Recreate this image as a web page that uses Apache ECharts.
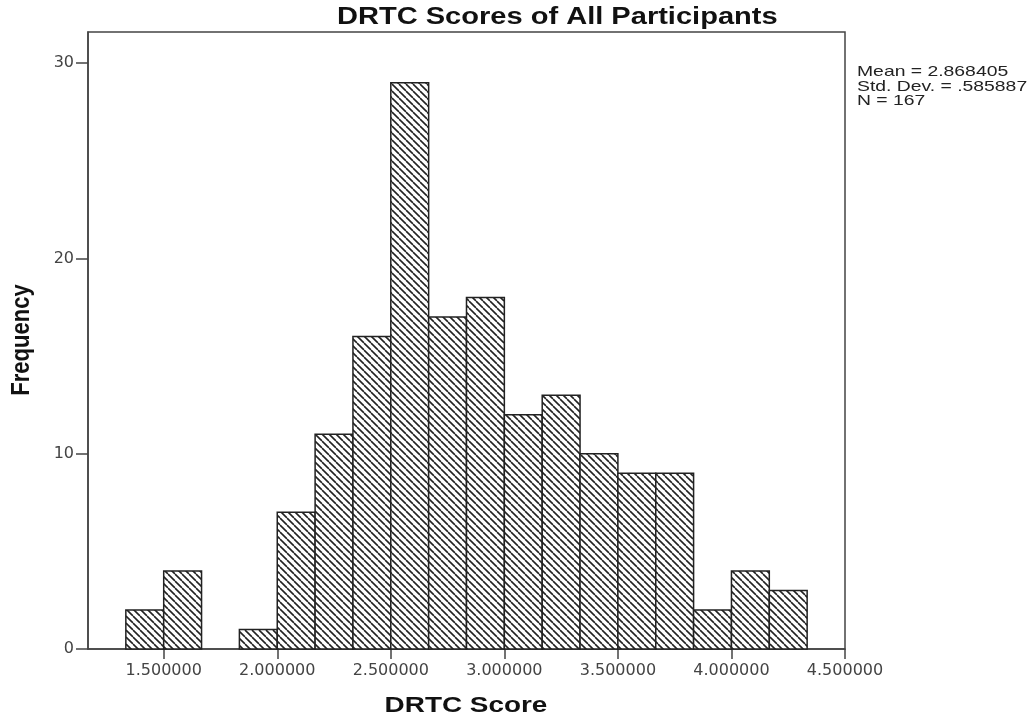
<!DOCTYPE html>
<html>
<head>
<meta charset="utf-8">
<script src="https://cdn.jsdelivr.net/npm/echarts@6/dist/echarts.min.js"></script>
<style>
html,body{margin:0;padding:0;background:#fff;}
#chart{width:1034px;height:719px;}
</style>
</head>
<body>
<div id="chart"></div>
<script>
// ---- data ----
const binEdges = [1.3333, 1.5, 1.6667, 1.8333, 2.0, 2.1667, 2.3333, 2.5, 2.6667, 2.8333, 3.0, 3.1667, 3.3333, 3.5, 3.6667, 3.8333, 4.0, 4.1667, 4.3333];
const frequencies = [2, 4, 0, 1, 7, 11, 16, 29, 17, 18, 12, 13, 10, 9, 9, 2, 4, 3];
const xTicks = [1.5, 2.0, 2.5, 3.0, 3.5, 4.0, 4.5];
const yTicks = [0, 10, 20, 30];
const statsLines = ['Mean = 2.868405', 'Std. Dev. = .585887', 'N = 167'];
const titleText = 'DRTC Scores of All Participants';
const xName = 'DRTC Score';
const yName = 'Frequency';

// hatch pattern
const tile = document.createElement('canvas');
const s = 7;
tile.width = s; tile.height = s;
const c = tile.getContext('2d');
c.fillStyle = '#fff'; c.fillRect(0, 0, s, s);
c.strokeStyle = '#222'; c.lineWidth = 1.6;
for (let k = -1; k <= 1; k++) {
  c.beginPath(); c.moveTo(k * s, 0); c.lineTo(k * s + s, s); c.stroke();
}
const hatch = { image: tile, repeat: 'repeat' };

const histData = frequencies.map((f, i) => [binEdges[i], binEdges[i + 1], f]);

const font = '"Liberation Sans", Arial, sans-serif';
const tickFont = '"DejaVu Sans", "Liberation Sans", sans-serif';
const chart = echarts.init(document.getElementById('chart'), null, { renderer: 'canvas' });
chart.setOption({
  animation: false,
  backgroundColor: '#fff',
  grid: { left: 88, right: 189, top: 32, bottom: 70, show: true, borderColor: '#444', borderWidth: 1.5, backgroundColor: '#fff' },
  xAxis: {
    type: 'value', min: 7 / 6, max: 4.5,
    axisLine: { show: true, onZero: false, lineStyle: { color: '#444', width: 1.5 } },
    axisTick: { show: true, customValues: xTicks, length: 10, lineStyle: { color: '#444', width: 1.5 } },
    axisLabel: { customValues: xTicks, formatter: v => v.toFixed(6), fontFamily: tickFont, fontSize: 16, color: '#444', margin: 14 },
    splitLine: { show: false }
  },
  yAxis: {
    type: 'value', min: 0, max: 31.6,
    axisLine: { show: true, lineStyle: { color: '#444', width: 1.5 } },
    axisTick: { show: true, customValues: yTicks, length: 12, lineStyle: { color: '#444', width: 1.5 } },
    axisLabel: { customValues: yTicks, fontFamily: tickFont, fontSize: 16, color: '#444', margin: 14 },
    splitLine: { show: false }
  },
  graphic: [
    {
      type: 'text', x: 337, y: 18, scaleX: 1.236,
      style: { text: titleText, font: 'bold 23.5px ' + font, fill: '#111', verticalAlign: 'middle', align: 'left' }
    },
    {
      type: 'text', x: 466, y: 706, scaleX: 1.24,
      style: { text: xName, font: 'bold 22.5px ' + font, fill: '#111', verticalAlign: 'middle', align: 'center' }
    },
    {
      type: 'text', x: 22, y: 340, rotation: Math.PI / 2, scaleY: 1.2,
      style: { text: yName, font: 'bold 22px ' + font, fill: '#111', verticalAlign: 'middle', align: 'center' }
    },
    {
      type: 'text', x: 857, y: 65, scaleX: 1.29,
      style: { text: statsLines.join('\n'), font: '15px ' + font, fill: '#222', lineHeight: 14.5, verticalAlign: 'top', align: 'left' }
    }
  ],
  series: [{
    type: 'custom',
    data: histData,
    encode: { x: [0, 1], y: 2 },
    renderItem: function (params, api) {
      if (api.value(2) <= 0) return null;
      const p0 = api.coord([api.value(0), api.value(2)]);
      const p1 = api.coord([api.value(1), 0]);
      return {
        type: 'rect',
        shape: { x: p0[0], y: p0[1], width: p1[0] - p0[0], height: p1[1] - p0[1] },
        style: { fill: hatch, stroke: '#222', lineWidth: 1.5 }
      };
    }
  }]
});
</script>
</body>
</html>
